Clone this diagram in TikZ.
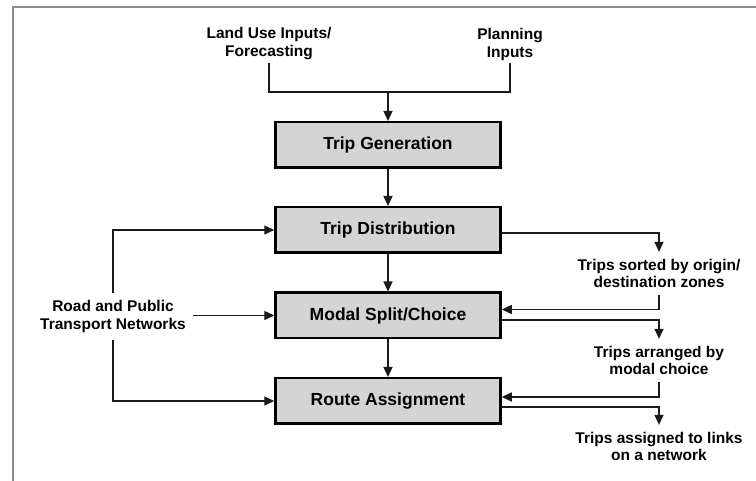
\documentclass[tikz,border=0pt]{standalone}
\usepackage{fontspec}
\setmainfont{Liberation Sans}
\usetikzlibrary{arrows.meta,calc}
\definecolor{boxfill}{HTML}{D4D4D4}
\definecolor{framegray}{HTML}{8C8C8C}
\definecolor{wire}{HTML}{1A1A1A}
\tikzset{
  stagebox/.style={draw=black, line width=2.5pt, fill=boxfill,
    minimum width=225pt, minimum height=45.5pt, inner sep=0pt,
    font=\fontsize{17.5}{20}\selectfont\bfseries},
  sidelabel/.style={align=center, inner xsep=7pt, inner ysep=7pt,
    font=\fontsize{15.5}{17.5}\selectfont\bfseries},
  toplabel/.style={align=center, inner sep=3pt,
    font=\fontsize{15.5}{18}\selectfont\bfseries},
  flow/.style={draw=wire, line width=1.3pt,
    -{Triangle[length=10pt,width=9pt]}},
  plain/.style={draw=wire, line width=1.3pt},
}
\begin{document}
\begin{tikzpicture}[x=1pt,y=-1pt]
  \useasboundingbox (0,0) rectangle (756,481);
  % page frame
  \draw[framegray, line width=1.3pt] (13,481) -- (13,7) -- (756,7);

  % inputs at the top
  \node[toplabel] (land) at (269,44) {Land Use Inputs/\\Forecasting};
  \node[toplabel] (plan) at (510,44) {Planning\\Inputs};
  \coordinate (join) at (388,92);

  % the four model stages
  \node[stagebox] (gen)   at (388,145)   {Trip Generation};
  \node[stagebox] (dist)  at (388,230)   {Trip Distribution};
  \node[stagebox] (modal) at (388,315.5) {Modal Split/Choice};
  \node[stagebox] (route) at (388,401)   {Route Assignment};

  % network input on the left
  \node[sidelabel] (net) at (113,316.5) {Road and Public\\Transport Networks};

  % stage outputs on the right
  \node[sidelabel] (od)   at (659,273.5) {Trips sorted by origin/\\destination zones};
  \node[sidelabel] (mode) at (659,360.5) {Trips arranged by\\modal choice};
  \node[sidelabel] (link) at (659,446.5) {Trips assigned to links\\on a network};

  % inputs merge into trip generation
  \draw[plain] (land.south) |- (join) -| (plan.south);
  \draw[flow] (join) -- (gen.north);

  % main chain
  \draw[flow] (gen.south) -- (dist.north);
  \draw[flow] (dist.south) -- (modal.north);
  \draw[flow] (modal.south) -- (route.north);

  % networks feed three stages
  \draw[flow] (net.north) |- (dist.west);
  \draw[flow] (net.east |- modal.west) -- (modal.west);
  \draw[flow] (net.south) |- (route.west);

  % outputs and feedback into the next stage
  \draw[flow] ([yshift=-3pt]dist.east) -| (od.north);
  \draw[flow] (od.south) |- ([yshift=6pt]modal.east);
  \draw[flow] ([yshift=-4.5pt]modal.east) -| (mode.north);
  \draw[flow] (mode.south) |- ([yshift=4pt]route.east);
  \draw[flow] ([yshift=-6pt]route.east) -| (link.north);
\end{tikzpicture}
\end{document}
